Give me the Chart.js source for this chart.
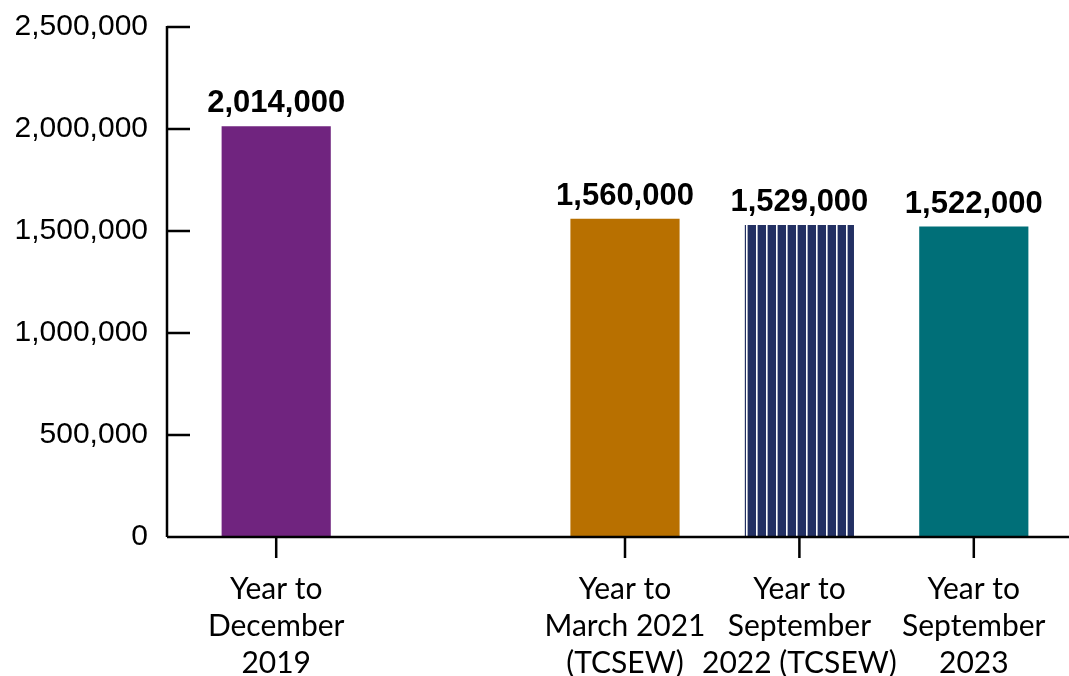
<!DOCTYPE html>
<html lang="en">
<head>
    <meta charset="UTF-8">
    <title>Estimated victims by period</title>
    <script src="https://cdn.jsdelivr.net/npm/chart.js"></script>
    <style>
        * { margin: 0; padding: 0; box-sizing: border-box; }
        body { background: #ffffff; width: 1069px; height: 676px; overflow: hidden; }
        #chart { display: block; }
    </style>
</head>
<body>
    <canvas id="chart" width="1069" height="676"></canvas>

    <script>
        // periods (the empty one leaves the gap after 2019)
        const periods = [
            ['Year to', 'December', '2019'],
            '',
            ['Year to', 'March 2021', '(TCSEW)'],
            ['Year to', 'September', '2022 (TCSEW)'],
            ['Year to', 'September', '2023']
        ];
        const victims = [2014000, null, 1560000, 1529000, 1522000];
        const yTicks = [0, 500000, 1000000, 1500000, 2000000, 2500000];

        const purple = '#70247f';
        const orange = '#b87000';
        const navy = '#233063';
        const teal = '#006f78';

        // vertical pin-stripes for the TCSEW 2022 bar
        function stripes() {
            const c = document.createElement('canvas');
            c.width = 10; c.height = 10;
            const g = c.getContext('2d');
            g.fillStyle = navy;
            g.fillRect(0, 0, 10, 10);
            g.fillStyle = '#ffffff';
            g.fillRect(6, 0, 1.6, 10);
            return g.createPattern(c, 'repeat');
        }

        const fmt = v => v.toLocaleString('en-GB');

        // axis lines drawn by hand: y line sits left of the plot, ticks point inwards
        const axesPlugin = {
            id: 'axes',
            afterDraw(chart) {
                const ctx = chart.ctx;
                const area = chart.chartArea;
                const y = chart.scales.y;
                const x = chart.scales.x;
                const axisX = area.left - 22;
                ctx.save();
                ctx.strokeStyle = '#000';
                ctx.lineWidth = 2.5;
                ctx.beginPath();
                ctx.moveTo(axisX, y.getPixelForValue(yTicks[yTicks.length - 1]) - 1);
                ctx.lineTo(axisX, area.bottom);
                ctx.moveTo(axisX, area.bottom);
                ctx.lineTo(chart.width, area.bottom);
                yTicks.forEach(t => {
                    if (t === 0) return;
                    const py = y.getPixelForValue(t);
                    ctx.moveTo(axisX, py);
                    ctx.lineTo(area.left + 1, py);
                });
                periods.forEach((p, i) => {
                    if (!p) return;
                    const px = x.getPixelForValue(i);
                    ctx.moveTo(px, area.bottom);
                    ctx.lineTo(px, area.bottom + 21);
                });
                ctx.stroke();
                ctx.restore();
            }
        };

        // bold value above each bar
        const valueLabels = {
            id: 'valueLabels',
            afterDatasetsDraw(chart) {
                const ctx = chart.ctx;
                const meta = chart.getDatasetMeta(0);
                ctx.save();
                ctx.font = 'bold 31px "Liberation Sans", Arial, sans-serif';
                ctx.fillStyle = '#000';
                ctx.textAlign = 'center';
                ctx.textBaseline = 'alphabetic';
                meta.data.forEach((bar, i) => {
                    if (victims[i] == null) return;
                    ctx.fillText(fmt(victims[i]), bar.x, bar.y - 14);
                });
                ctx.restore();
            }
        };

        const ctx = document.getElementById('chart').getContext('2d');
        const chart = new Chart(ctx, {
            type: 'bar',
            data: {
                labels: periods,
                datasets: [{
                    data: victims,
                    backgroundColor: [purple, null, orange, stripes(), teal],
                    borderWidth: 0,
                    categoryPercentage: 1,
                    barPercentage: 0.626
                }]
            },
            options: {
                responsive: false,
                animation: false,
                layout: { padding: { top: 27, right: 8, left: 0, bottom: 0 } },
                plugins: {
                    legend: { display: false },
                    tooltip: { enabled: false }
                },
                scales: {
                    x: {
                        grid: { display: false, drawTicks: false },
                        border: { display: false },
                        ticks: {
                            color: '#000',
                            font: { family: 'Lato, "Open Sans", sans-serif', size: 30, lineHeight: 37 / 30 },
                            maxRotation: 0,
                            autoSkip: false,
                            padding: 34
                        },
                        afterFit(scale) {
                            scale.height = 139;
                            scale.paddingLeft = 0;
                            scale.paddingRight = 0;
                        }
                    },
                    y: {
                        min: 0,
                        max: 2500000,
                        afterBuildTicks(scale) { scale.ticks = yTicks.map(v => ({ value: v })); },
                        grid: { display: false, drawTicks: false },
                        border: { display: false },
                        ticks: {
                            color: '#000',
                            font: { family: '"Liberation Sans", Arial, sans-serif', size: 30 },
                            padding: 41,
                            callback: v => fmt(v)
                        },
                        afterFit(scale) {
                            scale.width = 189;
                            scale.paddingTop = 0;
                            scale.paddingBottom = 0;
                        }
                    }
                }
            },
            plugins: [axesPlugin, valueLabels]
        });
    </script>
</body>
</html>
